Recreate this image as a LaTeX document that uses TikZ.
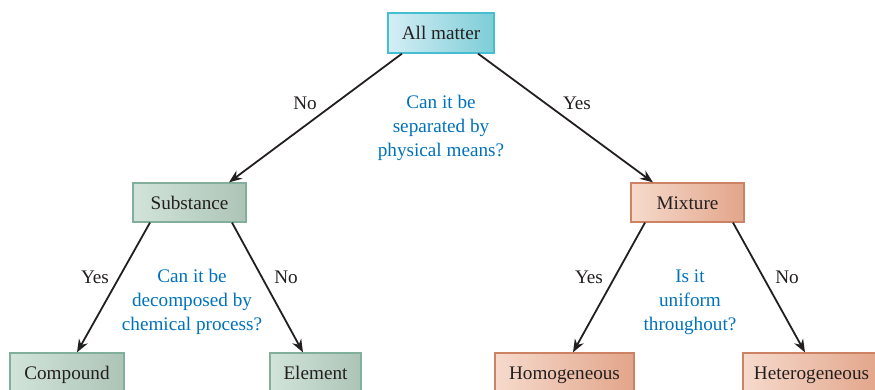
\documentclass[tikz,border=0pt]{standalone}
\usepackage{fontspec}
\setmainfont{Liberation Serif}
\usepackage{xcolor}
\usetikzlibrary{calc,arrows.meta}
\definecolor{inkdark}{RGB}{35,31,32}
\definecolor{askblue}{RGB}{0,114,188}
\definecolor{cyanedge}{RGB}{70,190,210}
\definecolor{cyanleft}{RGB}{212,238,245}
\definecolor{cyanright}{RGB}{125,205,215}
\definecolor{greenedge}{RGB}{130,175,155}
\definecolor{greenleft}{RGB}{210,228,218}
\definecolor{greenright}{RGB}{172,196,182}
\definecolor{peachedge}{RGB}{205,130,100}
\definecolor{peachleft}{RGB}{246,218,204}
\definecolor{peachright}{RGB}{226,165,138}
\tikzset{
  box/.style={draw,line width=0.6pt,inner sep=0pt,minimum height=19.5pt,
    text height=7.2pt,text depth=0.5pt,
    text=inkdark,font=\fontsize{9.6}{12}\selectfont},
  topbox/.style={box,draw=cyanedge,left color=cyanleft,right color=cyanright},
  subbox/.style={box,draw=greenedge,left color=greenleft,right color=greenright},
  mixbox/.style={box,draw=peachedge,left color=peachleft,right color=peachright},
  answer/.style={text=inkdark,font=\fontsize{9.6}{12}\selectfont},
  question/.style={text=askblue,align=center,font=\fontsize{9.6}{12}\selectfont},
  branch/.style={draw=inkdark,line width=0.9pt,-{Stealth[length=6.5pt,width=5pt]}}
}
\begin{document}
\begin{tikzpicture}[x=0.5pt,y=-0.5pt]
        \useasboundingbox (0,0) rectangle (875,390);
        \clip (0,0) rectangle (875,390);
        % boxes
        \node[topbox,minimum width=53pt,minimum height=20pt] (all) at (441,33) {All matter};
        \node[subbox,minimum width=56.5pt] (sub) at (189.5,202.5) {Substance};
        \node[mixbox,minimum width=56.5pt] (mix) at (687.5,202.5) {Mixture};
        \node[subbox,minimum width=57pt] (comp) at (67,372.5) {Compound};
        \node[subbox,minimum width=45.5pt] (elem) at (315.5,372.5) {Element};
        \node[mixbox,minimum width=69.5pt] (homo) at (564.5,372.5) {Homogeneous};
        \node[mixbox,minimum width=68.5pt] (het) at (811.5,372.5) {Heterogeneous};
        % branches
        \draw[branch] ($(all.south)+(-39,0)$) -- ($(sub.north)+(39.5,0)$);
        \draw[branch] ($(all.south)+(37,0)$) -- ($(mix.north)+(-34.5,0)$);
        \draw[branch] ($(sub.south)+(-39.5,0)$) -- ($(comp.north)+(10,0)$);
        \draw[branch] ($(sub.south)+(42.5,0)$) -- ($(elem.north)+(-12.5,0)$);
        \draw[branch] ($(mix.south)+(-42.5,0)$) -- ($(homo.north)+(8.5,0)$);
        \draw[branch] ($(mix.south)+(45.5,0)$) -- ($(het.north)+(-6.5,0)$);
        % answers
        \node[answer] (no1) at (305,103) {No};
        \node[answer] (yes1) at (577,103) {Yes};
        \node[answer] (yes2) at (95,277) {Yes};
        \node[answer] (no2) at (286,277) {No};
        \node[answer] (yes3) at (589,277) {Yes};
        \node[answer] (no3) at (787,277) {No};
        % questions
        \node[question] (q1) at (441,128) {Can it be\\separated by\\physical means?};
        \node[question] (q2) at (192,302) {Can it be\\decomposed by\\chemical process?};
        \node[question] (q3) at (690,302) {Is it\\uniform\\throughout?};
\end{tikzpicture}
\end{document}
